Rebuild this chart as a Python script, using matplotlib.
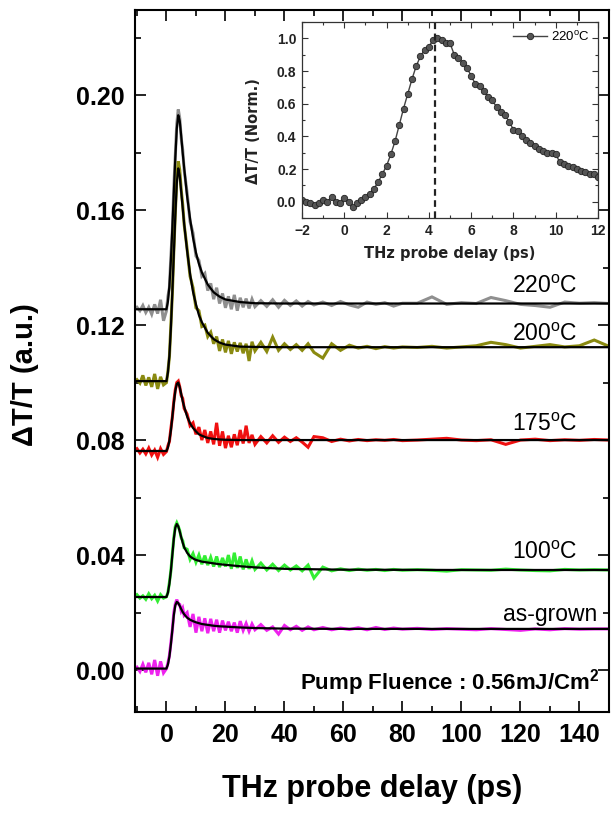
import matplotlib
matplotlib.use("Agg")
import matplotlib.pyplot as plt
from matplotlib.ticker import MultipleLocator

plt.rcParams['font.family'] = ['Liberation Sans', 'DejaVu Sans']
plt.rcParams['mathtext.fontset'] = 'custom'
plt.rcParams['mathtext.rm'] = 'Liberation Sans'
plt.rcParams['mathtext.bf'] = 'Liberation Sans:bold'

# ---------------- data ----------------
t_data = [-10, -9, -8, -7, -6, -5, -4, -3, -2, -1,
          0, 0.5, 1, 1.5, 2, 2.5, 3, 3.5, 4, 4.5, 5, 5.5, 6,
          7, 8, 9, 10, 11, 12, 13, 14, 15, 16, 17, 18, 19, 20, 21, 22, 23, 24, 25, 26, 27, 28, 29, 30,
          32, 34, 36, 38, 40, 42, 44, 46, 48, 50,
          53, 56, 59, 62, 65, 68, 71, 74, 77, 80,
          85, 90, 95, 100, 105, 110, 115, 120, 125, 130, 135, 140, 145, 150]

d220 = [0.1262, 0.1250, 0.1268, 0.1244, 0.1262, 0.1238, 0.1272, 0.1240, 0.1288, 0.1215,
        0.1250, 0.1300, 0.1330, 0.1440, 0.1530, 0.1680, 0.1790, 0.1900, 0.1950, 0.1920, 0.1850, 0.1810, 0.1740,
        0.1660, 0.1560, 0.1520, 0.1440, 0.1425, 0.1370, 0.1380, 0.1320, 0.1345, 0.1290, 0.1330, 0.1275, 0.1310,
        0.1260, 0.1300, 0.1255, 0.1305, 0.1250, 0.1295, 0.1262, 0.1292, 0.1258, 0.1290, 0.1264,
        0.1285, 0.1265, 0.1288, 0.1262, 0.1286, 0.1268, 0.1284, 0.1266, 0.1282, 0.1270,
        0.1280, 0.1268, 0.1282, 0.1270, 0.1262, 0.1280, 0.1272, 0.1278, 0.1266, 0.1276,
        0.1276, 0.1298, 0.1272, 0.1278, 0.1275, 0.1296, 0.1285, 0.1272, 0.1268, 0.1262, 0.1280, 0.1276, 0.1278, 0.1275]

d200 = [0.1010, 0.0998, 0.1025, 0.0990, 0.1018, 0.0985, 0.1030, 0.0978, 0.1020, 0.0992,
        0.1000, 0.1040, 0.1090, 0.1200, 0.1310, 0.1460, 0.1590, 0.1710, 0.1770, 0.1740, 0.1670, 0.1620, 0.1550,
        0.1465, 0.1370, 0.1330, 0.1260, 0.1250, 0.1195, 0.1200, 0.1160, 0.1175, 0.1135, 0.1160, 0.1110, 0.1150,
        0.1105, 0.1145, 0.1100, 0.1140, 0.1108, 0.1138, 0.1102, 0.1135, 0.1075, 0.1142, 0.1110,
        0.1140, 0.1108, 0.1158, 0.1112, 0.1135, 0.1115, 0.1132, 0.1112, 0.1135, 0.1105,
        0.1085, 0.1135, 0.1112, 0.1130, 0.1120, 0.1126, 0.1118, 0.1125, 0.1120, 0.1124,
        0.1122, 0.1126, 0.1120, 0.1124, 0.1128, 0.1140, 0.1132, 0.1120, 0.1126, 0.1132, 0.1124, 0.1128, 0.1148, 0.1126]

d175 = [0.0770, 0.0755, 0.0768, 0.0752, 0.0772, 0.0748, 0.0765, 0.0740, 0.0770, 0.0750,
        0.0760, 0.0780, 0.0795, 0.0840, 0.0880, 0.0935, 0.0975, 0.1000, 0.1005, 0.0985, 0.0955, 0.0945, 0.0910,
        0.0890, 0.0850, 0.0860, 0.0820, 0.0845, 0.0800, 0.0835, 0.0790, 0.0830, 0.0785, 0.0860, 0.0780, 0.0830,
        0.0772, 0.0815, 0.0775, 0.0820, 0.0782, 0.0835, 0.0788, 0.0850, 0.0790, 0.0818, 0.0785,
        0.0812, 0.0790, 0.0815, 0.0792, 0.0810, 0.0795, 0.0808, 0.0793, 0.0775, 0.0812,
        0.0808, 0.0795, 0.0803, 0.0797, 0.0802, 0.0798, 0.0801, 0.0799, 0.0802, 0.0798,
        0.0800, 0.0803, 0.0806, 0.0800, 0.0798, 0.0801, 0.0785, 0.0800, 0.0803, 0.0798, 0.0801, 0.0799, 0.0802, 0.0800]

d100 = [0.0262, 0.0250, 0.0258, 0.0246, 0.0265, 0.0248, 0.0260, 0.0240, 0.0262, 0.0250,
        0.0255, 0.0270, 0.0305, 0.0345, 0.0405, 0.0460, 0.0500, 0.0512, 0.0500, 0.0485, 0.0460, 0.0450, 0.0425,
        0.0420, 0.0385, 0.0405, 0.0375, 0.0400, 0.0368, 0.0398, 0.0365, 0.0392, 0.0360, 0.0395, 0.0358, 0.0390,
        0.0360, 0.0400, 0.0352, 0.0408, 0.0355, 0.0395, 0.0350, 0.0385, 0.0352, 0.0380, 0.0350,
        0.0372, 0.0348, 0.0368, 0.0346, 0.0365, 0.0348, 0.0362, 0.0345, 0.0365, 0.0320,
        0.0358, 0.0345, 0.0352, 0.0346, 0.0351, 0.0347, 0.0350, 0.0346, 0.0350, 0.0347,
        0.0349, 0.0347, 0.0344, 0.0349, 0.0348, 0.0347, 0.0351, 0.0348, 0.0346, 0.0345, 0.0350, 0.0348, 0.0349, 0.0348]

dasg = [0.0010, -0.0005, 0.0020, -0.0008, 0.0025, -0.0015, 0.0035, -0.0020, 0.0030, -0.0010,
        0.0005, 0.0025, 0.0050, 0.0095, 0.0140, 0.0200, 0.0230, 0.0245, 0.0230, 0.0228, 0.0205, 0.0215, 0.0190,
        0.0200, 0.0150, 0.0195, 0.0130, 0.0185, 0.0135, 0.0180, 0.0128, 0.0178, 0.0135, 0.0175, 0.0130, 0.0172,
        0.0138, 0.0168, 0.0135, 0.0165, 0.0130, 0.0170, 0.0138, 0.0162, 0.0135, 0.0160, 0.0140,
        0.0158, 0.0138, 0.0150, 0.0125, 0.0155, 0.0140, 0.0152, 0.0138, 0.0150, 0.0140,
        0.0148, 0.0140, 0.0146, 0.0141, 0.0147, 0.0140, 0.0148, 0.0141, 0.0146, 0.0142,
        0.0145, 0.0141, 0.0144, 0.0142, 0.0140, 0.0144, 0.0141, 0.0138, 0.0143, 0.0140, 0.0144, 0.0142, 0.0143, 0.0143]

t_fit = [-10, 0, 0.5, 1, 1.5, 2, 2.5, 3, 3.5, 4, 4.5, 5, 5.5, 6, 7, 8, 9, 10, 11, 12,
         14, 16, 18, 20, 25, 30, 40, 60, 100, 150]
f220 = [0.1255, 0.1255, 0.1282, 0.1336, 0.1424, 0.1539, 0.1660, 0.1782, 0.1883, 0.1930,
        0.1910, 0.1858, 0.1799, 0.1747, 0.1648, 0.1570, 0.1504, 0.1452, 0.1413, 0.1383,
        0.1341, 0.1314, 0.1299, 0.1289, 0.1280, 0.1276, 0.1275, 0.1275, 0.1275, 0.1275]
f200 = [0.1005, 0.1005, 0.1035, 0.1094, 0.1190, 0.1316, 0.1449, 0.1582, 0.1693, 0.1745,
        0.1720, 0.1664, 0.1608, 0.1552, 0.1459, 0.1378, 0.1316, 0.1272, 0.1235, 0.1210,
        0.1173, 0.1151, 0.1139, 0.1132, 0.1125, 0.1124, 0.1123, 0.1123, 0.1123, 0.1123]
f175 = [0.0762, 0.0762, 0.0774, 0.0798, 0.0833, 0.0881, 0.0929, 0.0971, 0.0995, 0.1000,
        0.0984, 0.0960, 0.0936, 0.0916, 0.0882, 0.0858, 0.0842, 0.0830, 0.0820, 0.0815,
        0.0807, 0.0804, 0.0802, 0.0801, 0.0800, 0.0800, 0.0800, 0.0800, 0.0800, 0.0800]
f100 = [0.0254, 0.0254, 0.0269, 0.0300, 0.0345, 0.0401, 0.0457, 0.0495, 0.0508, 0.0500,
        0.0482, 0.0462, 0.0443, 0.0427, 0.0408, 0.0395, 0.0388, 0.0383, 0.0380, 0.0377,
        0.0374, 0.0371, 0.0368, 0.0366, 0.0361, 0.0357, 0.0352, 0.0349, 0.0348, 0.0348]
fasg = [0.0005, 0.0005, 0.0019, 0.0047, 0.0089, 0.0140, 0.0191, 0.0225, 0.0237, 0.0233,
        0.0223, 0.0212, 0.0202, 0.0194, 0.0182, 0.0175, 0.0170, 0.0166, 0.0163, 0.0160,
        0.0157, 0.0154, 0.0152, 0.0151, 0.0148, 0.0146, 0.0144, 0.0143, 0.0143, 0.0143]

labels = ["220$^{\\rm o}$C", "200$^{\\rm o}$C", "175$^{\\rm o}$C", "100$^{\\rm o}$C", "as-grown"]
label_y = [0.1335, 0.1168, 0.0855, 0.0410, 0.0193]
label_x = [139.5, 139.5, 139.5, 139.5, 146.0]
colors = ["#8f8f8f", "#8a8a10", "#f01010", "#33ee33", "#ee22ee"]

# inset data (220 C, normalized)
t_in = [-2.0, -1.8, -1.6, -1.4, -1.2, -1.0, -0.8, -0.6, -0.4, -0.2,
        0.0, 0.2, 0.4, 0.6, 0.8, 1.0, 1.2, 1.4, 1.6, 1.8,
        2.0, 2.2, 2.4, 2.6, 2.8, 3.0, 3.2, 3.4, 3.6, 3.8,
        4.0, 4.2, 4.4, 4.6, 4.8, 5.0, 5.2, 5.4, 5.6, 5.8,
        6.0, 6.2, 6.4, 6.6, 6.8, 7.0, 7.2, 7.4, 7.6, 7.8,
        8.0, 8.2, 8.4, 8.6, 8.8, 9.0, 9.2, 9.4, 9.6, 9.8,
        10.0, 10.2, 10.4, 10.6, 10.8, 11.0, 11.2, 11.4, 11.6, 11.8, 12.0]
v_in = [0.01, 0.00, -0.01, -0.02, -0.01, 0.01, 0.00, 0.03, 0.00, -0.01,
        0.02, 0.00, -0.03, -0.01, 0.01, 0.03, 0.05, 0.08, 0.12, 0.17,
        0.22, 0.29, 0.37, 0.47, 0.57, 0.66, 0.75, 0.83, 0.89, 0.93,
        0.95, 0.99, 1.00, 0.99, 0.97, 0.97, 0.90, 0.88, 0.85, 0.82,
        0.77, 0.72, 0.71, 0.68, 0.64, 0.62, 0.58, 0.55, 0.53, 0.49,
        0.44, 0.43, 0.40, 0.38, 0.36, 0.34, 0.32, 0.31, 0.30, 0.30,
        0.29, 0.24, 0.23, 0.22, 0.21, 0.20, 0.19, 0.18, 0.17, 0.17, 0.15]
peak_t = 4.3

# ---------------- figure ----------------
fig = plt.figure(figsize=(6.15, 8.15), dpi=100)
ax = fig.add_axes([0.2203, 0.1264, 0.7699, 0.8613])

datas = [d220, d200, d175, d100, dasg]
fits = [f220, f200, f175, f100, fasg]
for d, f, c in zip(datas, fits, colors):
    ax.plot(t_data, d, color=c, lw=2.2, solid_joinstyle='miter', zorder=2)
for f in fits:
    ax.plot(t_fit, f, color='black', lw=1.6, zorder=3)

for lab, lx, ly in zip(labels, label_x, label_y):
    ax.text(lx, ly, lab, ha='right', va='center', fontsize=16.5)

ax.text(146.8, -0.0042, "Pump Fluence : 0.56mJ/Cm$^{\\mathbf{2}}$", ha='right', va='center',
        fontsize=16, fontweight='bold')

ax.set_xlim(-10.5, 150)
ax.set_ylim(-0.0146, 0.2296)
ax.set_xticks([0, 20, 40, 60, 80, 100, 120, 140])
ax.set_yticks([0.00, 0.04, 0.08, 0.12, 0.16, 0.20])
ax.set_yticklabels(["0.00", "0.04", "0.08", "0.12", "0.16", "0.20"])
ax.xaxis.set_minor_locator(MultipleLocator(10))
ax.yaxis.set_minor_locator(MultipleLocator(0.02))
ax.tick_params(which='both', direction='in', top=True, right=True, width=1.2)
ax.tick_params(which='major', length=8, labelsize=18, pad=8)
ax.tick_params(which='minor', length=4)
for lab in ax.get_xticklabels() + ax.get_yticklabels():
    lab.set_fontweight('bold')
for s in ax.spines.values():
    s.set_linewidth(1.5)

ax.set_xlabel("THz probe delay (ps)", fontsize=22, fontweight='bold')
ax.set_ylabel("ΔT/T (a.u.)", fontsize=21, fontweight='bold')
ax.xaxis.set_label_coords(0.5, -0.088)
ax.yaxis.set_label_coords(-0.203, 0.481)

# ---------------- inset ----------------
ins = fig.add_axes([0.4911, 0.7325, 0.4813, 0.2405])
ins.plot(t_in, v_in, color='#444444', lw=1.0, marker='o', ms=4.6,
         markerfacecolor='#555555', markeredgecolor='#222222', markeredgewidth=0.6,
         label="220$^{\\rm o}$C")
ins.axvline(peak_t, color='#222222', lw=1.6, ls=(0, (3, 2)))
ins.set_xlim(-2, 12)
ins.set_ylim(-0.1, 1.1)
ins.set_xticks([-2, 0, 2, 4, 6, 8, 10, 12])
ins.set_yticks([0.0, 0.2, 0.4, 0.6, 0.8, 1.0])
ins.set_yticklabels(["0.0", "0.2", "0.4", "0.6", "0.8", "1.0"])
ins.xaxis.set_minor_locator(MultipleLocator(1))
ins.yaxis.set_minor_locator(MultipleLocator(0.1))
ins.tick_params(which='both', direction='in', top=True, right=True, width=0.8, colors='#333333')
ins.tick_params(which='major', length=4, labelsize=10, pad=4, labelcolor='#222222')
ins.tick_params(which='minor', length=2)
for lab in ins.get_xticklabels() + ins.get_yticklabels():
    lab.set_fontweight('bold')
for s in ins.spines.values():
    s.set_linewidth(0.9)
    s.set_color('#333333')
ins.set_xlabel("THz probe delay (ps)", fontsize=10.5, fontweight='bold', color='#222222',
               family=['DejaVu Sans'])
ins.set_ylabel("ΔT/T (Norm.)", fontsize=10.5, fontweight='bold', color='#222222',
               family=['DejaVu Sans'])
ins.xaxis.set_label_coords(0.5, -0.145)
ins.yaxis.set_label_coords(-0.14, 0.444)
leg = ins.legend(loc='upper right', frameon=False, fontsize=9.5, handlelength=2.6,
                 borderaxespad=0.2, handletextpad=0.3)

fig.savefig("out.png", dpi=100)
